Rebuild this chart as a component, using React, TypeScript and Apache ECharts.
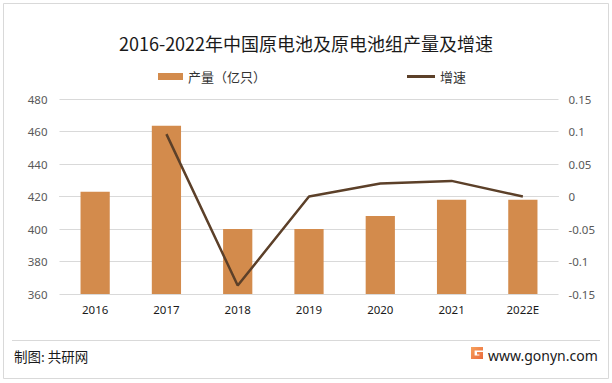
import React, { useEffect, useRef } from "react";
import * as echarts from "echarts";

const years = ["2016", "2017", "2018", "2019", "2020", "2021", "2022E"];
const output = [423, 463.5, 400, 400, 408, 418, 418];
const growth: (number | null)[] = [null, 0.096, -0.137, 0, 0.02, 0.024, 0];
const leftTicks = [360, 380, 400, 420, 440, 460, 480];
const rightTicks = [-0.15, -0.1, -0.05, 0, 0.05, 0.1, 0.15];

const BAR = "#d38b4c";
const LINE = "#5c4029";
const CJK = "'Noto Sans CJK SC', 'Microsoft YaHei', sans-serif";

echarts.graphic.registerShape(
  "glogo",
  echarts.graphic.extendPath(
    "M0 0 H10 V3 H3 V7 H7 V6.2 H5 V4.2 H10 V10 H0 Z",
    {}
  ) as any
);

export default function App() {
  const ref = useRef<HTMLDivElement>(null);
  useEffect(() => {
    if (!ref.current) return;
    const chart = echarts.init(ref.current, null, { renderer: "svg" });
    chart.setOption({
      animation: false,
      backgroundColor: "#ffffff",
      title: {
        text: "2016-2022年中国原电池及原电池组产量及增速",
        left: "center",
        top: 29,
        textStyle: {
          fontFamily: CJK,
          fontSize: 18,
          fontWeight: "normal",
          color: "#1a1a1a",
        },
      },
      legend: [
        {
          data: [{ name: "产量（亿只）", icon: "rect" }],
          left: 153,
          top: 65,
          itemWidth: 25,
          itemHeight: 7,
          textStyle: { fontFamily: CJK, fontSize: 13, color: "#333" },
        },
        {
          data: [{ name: "增速", icon: "rect" }],
          left: 402,
          top: 65,
          itemWidth: 28,
          itemHeight: 3,
          itemStyle: { color: LINE },
          textStyle: { fontFamily: CJK, fontSize: 13, color: "#333" },
        },
      ],
      grid: { left: 59.5, right: 53.5, top: 99, bottom: 89 },
      xAxis: {
        type: "category",
        data: years,
        axisTick: { show: false },
        axisLine: { lineStyle: { color: "#d9d9d9" } },
        axisLabel: {
          color: "#1a1a1a",
          fontSize: 11.5,
          fontFamily: "'Noto Sans', sans-serif",
          margin: 9,
        },
      },
      yAxis: [
        {
          type: "value",
          min: 360,
          max: 480,
          interval: 20,
          axisLine: { show: false },
          axisTick: { show: false },
          splitLine: { lineStyle: { color: "#d9d9d9" } },
          axisLabel: {
            color: "#595959",
            fontSize: 11.5,
            fontFamily: "'Noto Sans', sans-serif",
            margin: 12,
            formatter: (v: number) => (leftTicks.includes(v) ? String(v) : ""),
          },
        },
        {
          type: "value",
          min: -0.15,
          max: 0.15,
          interval: 0.05,
          axisLine: { show: false },
          axisTick: { show: false },
          splitLine: { show: false },
          axisLabel: {
            color: "#595959",
            fontSize: 11.5,
            fontFamily: "'Noto Sans', sans-serif",
            margin: 10,
            formatter: (v: number) => {
              const r = Math.round(v * 100) / 100;
              const found = rightTicks.find((t) => Math.abs(t - r) < 1e-9);
              return found === undefined ? "" : String(found);
            },
          },
        },
      ],
      series: [
        {
          name: "产量（亿只）",
          type: "bar",
          data: output,
          barWidth: "41%",
          itemStyle: { color: BAR },
          yAxisIndex: 0,
        },
        {
          name: "增速",
          type: "line",
          data: growth,
          yAxisIndex: 1,
          symbol: "none",
          lineStyle: { color: LINE, width: 2.5 },
          itemStyle: { color: LINE },
        },
      ],
      graphic: [
        {
          type: "rect",
          shape: { x: 3.5, y: 3.5, width: 605, height: 375 },
          style: { fill: "none", stroke: "#d9d9d9", lineWidth: 1 },
          silent: true,
        },
        {
          type: "line",
          shape: { x1: 12, y1: 340.5, x2: 600, y2: 340.5 },
          style: { stroke: "#d9d9d9", lineWidth: 1 },
        },
        {
          type: "text",
          left: 14,
          top: 349,
          style: {
            text: "制图: 共研网",
            font: `13.5px ${CJK}`,
            fill: "#1a1a1a",
          },
        },
        {
          type: "glogo",
          x: 471,
          y: 347,
          scaleX: 1.2,
          scaleY: 1.2,
          style: {
            fill: new echarts.graphic.LinearGradient(0, 0, 1, 1, [
              { offset: 0, color: "#f7a15c" },
              { offset: 1, color: "#ea6a3c" },
            ]),
          },
        },
        {
          type: "text",
          left: 488,
          top: 348,
          style: {
            text: "www.gonyn.com",
            font: "14px 'Noto Sans', sans-serif",
            fill: "#1a1a1a",
          },
        },
      ],
    });
    return () => chart.dispose();
  }, []);
  return (
    <div
      ref={ref}
      style={{ position: "fixed", left: 0, top: 0, width: 612, height: 383 }}
    />
  );
}
